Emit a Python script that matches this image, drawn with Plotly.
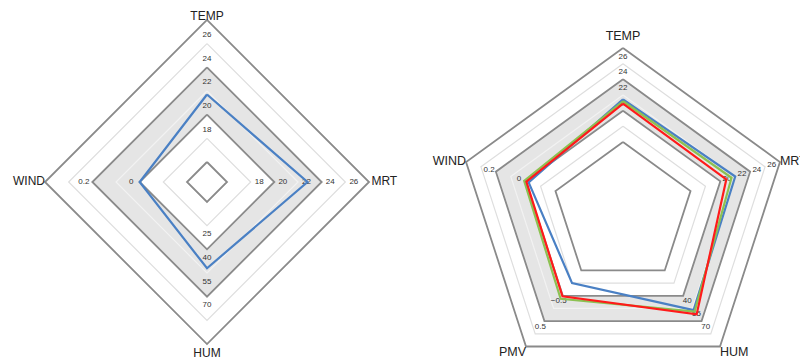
import plotly.graph_objects as go

# ---------------- data ----------------
left_axes = ["TEMP", "MRT", "HUM", "WIND"]
right_axes = ["TEMP", "MRT", "HUM", "PMV", "WIND"]

# value at the innermost ring and value step between rings (7 rings per axis)
axis_start = {"TEMP": 16, "MRT": 16, "HUM": 10, "WIND": -0.2, "PMV": -1.5}
axis_step = {"TEMP": 2, "MRT": 2, "HUM": 15, "WIND": 0.1, "PMV": 0.5}
n_rings = 7

tick_values = {
    "TEMP": [18, 20, 22, 24, 26],
    "MRT": [18, 20, 22, 24, 26],
    "HUM": [25, 40, 55, 70],
    "WIND": [0, 0.2],
    "PMV": [-0.5, 0.5],
}

comfort_low = {"TEMP": 20, "MRT": 20, "HUM": 40, "WIND": 0, "PMV": -0.5}
comfort_high = {"TEMP": 24, "MRT": 24, "HUM": 70, "WIND": 0.2, "PMV": 0.5}

left_blue = [21.7, 22.8, 52, 0.0]
right_blue = [21.45, 22.0, 57, -1.0, -0.02]
right_green = [21.2, 21.5, 58.7, -0.38, 0.01]
right_red = [20.9, 20.8, 62, -0.48, -0.005]

# ---------------- styling ----------------
PAGE_MARGIN = 8          # default body margin of the html page
W, H = 800, 378
FONT = "Liberation Sans, Arial, sans-serif"
DARK_RING = "#8a8a8a"
LIGHT_RING = "#dedede"
BAND_RING = "#f2f2f2"
BAND_FILL = "#e5e5e5"
BLUE = "#4a80c4"
GREEN = "#8cc152"
RED = "#ff1a1a"

LABEL_POS = {
    "TEMP": "top center", "MRT": "middle right", "HUM": "bottom center",
    "WIND": "middle left",
}
LABEL_POS_R = {
    "TEMP": "top center", "MRT": "middle right", "HUM": "bottom right",
    "PMV": "bottom left", "WIND": "middle left",
}


def ring_pos(axis, v):
    return 1 + (v - axis_start[axis]) / axis_step[axis]


def closed(lst):
    return list(lst) + [lst[0]]


def fmt(v):
    s = f"{v:g}"
    return s.replace("-", "\u2212")


fig = go.Figure()


def add_chart(subplot, axes, series, label_off, tick_size, name_pos, name_size,
              name_r):
    th = closed(axes)
    # comfort band
    fig.add_trace(go.Scatterpolar(
        r=closed([ring_pos(a, comfort_high[a]) for a in axes]), theta=th,
        mode="lines", fill="toself", fillcolor=BAND_FILL,
        line=dict(width=0, color=BAND_FILL), hoverinfo="skip",
        showlegend=False, subplot=subplot))
    fig.add_trace(go.Scatterpolar(
        r=closed([ring_pos(a, comfort_low[a]) for a in axes]), theta=th,
        mode="lines", fill="toself", fillcolor="white",
        line=dict(width=0, color="white"), hoverinfo="skip",
        showlegend=False, subplot=subplot))
    # rings
    for k in range(1, n_rings + 1):
        vals = [axis_start[a] + axis_step[a] * (k - 1) for a in axes]
        if k % 2 == 1:
            col, wd = DARK_RING, 1.8
        elif k == 4:
            col, wd = BAND_RING, 1.2
        else:
            col, wd = LIGHT_RING, 1.2
        fig.add_trace(go.Scatterpolar(
            r=closed([ring_pos(a, v) for a, v in zip(axes, vals)]), theta=th,
            mode="lines", line=dict(color=col, width=wd),
            hoverinfo="skip", showlegend=False, subplot=subplot))
    # tick labels
    rr, tt, tx = [], [], []
    for a in axes:
        for v in tick_values[a]:
            rr.append(ring_pos(a, v) + label_off)
            tt.append(a)
            tx.append(fmt(v))
    fig.add_trace(go.Scatterpolar(
        r=rr, theta=tt, text=tx, mode="text",
        textfont=dict(family=FONT, size=tick_size, color="#333333"),
        hoverinfo="skip", showlegend=False, subplot=subplot))
    # axis names
    fig.add_trace(go.Scatterpolar(
        r=[name_r.get(a, n_rings) for a in axes], theta=axes, text=axes,
        mode="text", textposition=[name_pos[a] for a in axes],
        textfont=dict(family=FONT, size=name_size, color="#222222"),
        cliponaxis=False, hoverinfo="skip", showlegend=False, subplot=subplot))
    # data
    for vals, col in series:
        fig.add_trace(go.Scatterpolar(
            r=closed([ring_pos(a, v) for a, v in zip(axes, vals)]), theta=th,
            mode="lines", line=dict(color=col, width=2.2),
            showlegend=False, subplot=subplot))


add_chart("polar", left_axes, [(left_blue, BLUE)], 0.36, 8,
          LABEL_POS, 12, {"HUM": 7.15, "MRT": 7.1, "TEMP": 6.88})
add_chart("polar2", right_axes,
          [(right_blue, BLUE), (right_green, GREEN), (right_red, RED)], 0.45, 8,
          LABEL_POS_R, 12.5, {"TEMP": 7.3})


def polar_layout(page_cx, page_cy, R, kmin, kmax, axes):
    cx = page_cx - PAGE_MARGIN
    yc = H - (page_cy - PAGE_MARGIN)
    return dict(
        domain=dict(x=[(cx - R) / W, (cx + R) / W], y=[(yc - R) / H, (yc + R) / H]),
        gridshape="linear",
        bgcolor="rgba(0,0,0,0)",
        radialaxis=dict(visible=False, range=[kmin, kmax]),
        angularaxis=dict(rotation=90, direction="clockwise", showgrid=False,
                         showline=False, ticks="", showticklabels=False,
                         categoryorder="array", categoryarray=axes),
    )


KMAX = 7.4
# left: ring spacing ~23.67 px, innermost ring at ~20 px
kmin_l = 1 - 20 / 23.67
R_l = 23.67 * (KMAX - kmin_l)
# right: ring spacing ~15.67 px, innermost ring at ~71 px
kmin_r = 1 - 71 / 15.67
R_r = 15.67 * (KMAX - kmin_r)

fig.update_layout(
    width=W, height=H, autosize=False,
    margin=dict(l=0, r=0, t=0, b=0),
    paper_bgcolor="white", plot_bgcolor="white",
    showlegend=False,
    polar=polar_layout(207, 182, R_l, kmin_l, KMAX, left_axes),
    polar2=polar_layout(623, 213, R_r, kmin_r, KMAX, right_axes),
)

fig.write_html("out.html")
